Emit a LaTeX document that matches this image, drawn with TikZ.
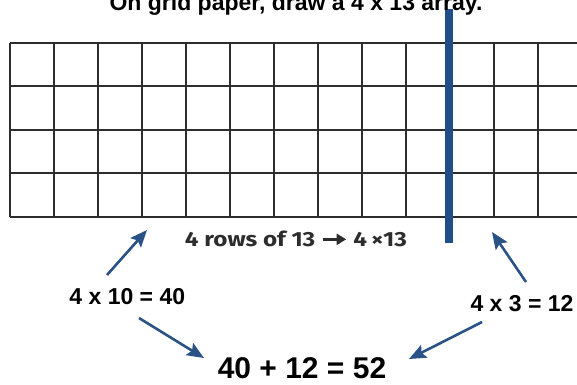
\documentclass[tikz,border=0pt]{standalone}
\usepackage{fontspec}
\setmainfont{Liberation Sans}
\newfontfamily\labfont{Fira Sans}
\usetikzlibrary{arrows.meta}
\definecolor{barblue}{RGB}{31,78,138}
\definecolor{arrblue}{RGB}{42,82,135}
\definecolor{labgray}{RGB}{45,45,45}
\definecolor{gridgray}{RGB}{45,45,45}
\newcommand{\thickarrow}{\tikz[baseline=-0.36em]\draw[labgray, line width=2.6pt, -{Triangle[length=8pt,width=11pt]}] (0,0) -- (20pt,0);}
\begin{document}
\begin{tikzpicture}[x=1pt,y=-1pt,
  gridline/.style={draw=gridgray, line width=1.6pt},
  bar/.style={draw=barblue, line width=7.5pt},
  conn/.style={draw=arrblue, line width=2.6pt, -{Stealth[length=17pt,width=14pt,inset=3pt]}},
  eq/.style={font=\fontsize{23}{26}\selectfont\bfseries, inner sep=0pt},
  title/.style={font=\fontsize{23}{26}\selectfont\bfseries, inner sep=0pt, anchor=base},
  lab/.style={font=\labfont\fontsize{20.5}{24}\selectfont\bfseries, text=labgray, inner sep=0pt, anchor=base}]
\useasboundingbox (0,0) rectangle (577,384);
% grid
\foreach \r in {0,...,4} {
  \draw[gridline] (10,42.7+43.5*\r) -- (590,42.7+43.5*\r);
}
\foreach \c in {0,...,13} {
  \draw[gridline] (10+44*\c,42.7) -- (10+44*\c,216.7);
}
% blue divider
\coordinate (bartop) at (449,9);
\coordinate (barbot) at (449,243);
\draw[bar] (bartop) -- (barbot);
% texts
\node[title] (title) at (296,10) {On grid paper, draw a 4 x 13 array.};
\node[lab] (rows) at (296,246.7) {\scalebox{1.18}[1]{4 rows of 13 \thickarrow{} 4\,×13}};
\node[eq] (eqL) at (127.3,296.7) {4 x 10 = 40};
\node[eq] (eqR) at (522,303.3) {4 x 3 = 12};
\node[eq, font=\fontsize{30}{34}\selectfont\bfseries] (sum) at (302,368) {40 + 12 = 52};
% arrow ends
\coordinate (ulTail) at (107,275);
\coordinate (ulTip) at (147,230);
\coordinate (urTail) at (526,282);
\coordinate (urTip) at (492,232);
\coordinate (llTail) at (139,318);
\coordinate (llTip) at (204,358);
\coordinate (lrTail) at (482,322);
\coordinate (lrTip) at (409,359);
\draw[conn] (ulTail) -- (ulTip);
\draw[conn] (urTail) -- (urTip);
\draw[conn] (llTail) -- (llTip);
\draw[conn] (lrTail) -- (lrTip);
\end{tikzpicture}
\end{document}
